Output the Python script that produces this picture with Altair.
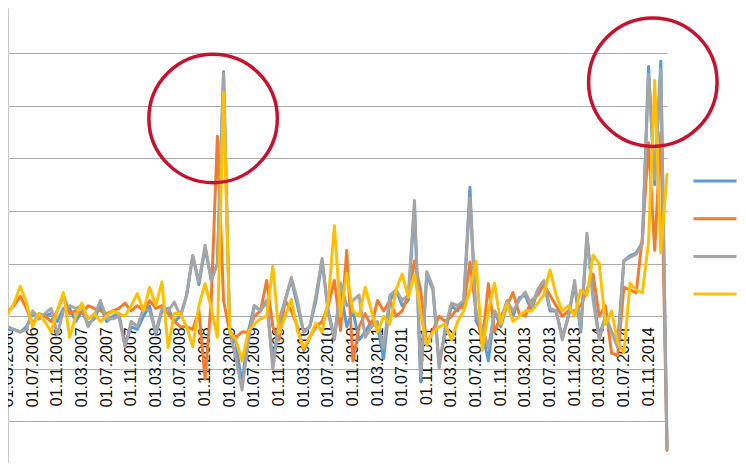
import altair as alt
import pandas as pd

series_names = ["Series 1", "Series 2", "Series 3", "Series 4"]
series_colors = ["#5B9BD5", "#ED7D31", "#A5A5A5", "#FFC000"]

# Monthly values, 01.03.2006 ... 01.02.2015 (108 months)
blue = [-0.25, -0.25, -0.3, -0.2, 0.05, -0.05, 0.0, 0.05, -0.1, 0.15,
        0.15, -0.1, 0.1, -0.15, -0.05, 0.2, -0.1, 0.0, 0.05, -0.55,
        -0.2, -0.25, 0.0, 0.2, -0.35, 0.1, 0.15, -0.1, 0.0, 0.4,
        1.15, 0.6, 1.3, 0.7, 1.0, 4.65, -0.3, -0.5, -1.3, -0.3,
        0.2, 0.1, 0.3, -0.9, -0.1, 0.3, 0.7, 0.2, -0.3, -0.2,
        0.3, 1.05, 0.1, -0.4, 0.5, -0.2, 0.1, -0.45, -0.3, -0.1,
        -0.2, -0.8, 0.3, 0.5, 0.2, 0.3, 2.1, -1.25, 0.8, 0.5,
        -0.9, -0.3, 0.2, 0.1, 0.3, 2.45, -0.1, -0.3, -0.85, 0.1,
        -0.2, 0.2, 0.0, 0.35, 0.4, 0.1, 0.5, 0.65, 0.1, 0.1,
        -0.4, 0.0, 0.6, -0.3, 1.5, 0.4, -0.4, 0.0, -0.3, -0.5,
        1.05, 1.15, 1.2, 1.4, 4.75, 2.5, 4.85, -2.5]

orange = [0.1, 0.2, 0.38, 0.15, -0.15, 0.05, 0.0, -0.1, 0.1, 0.4,
          0.05, 0.1, 0.05, 0.2, 0.15, 0.1, 0.05, 0.1, 0.15, 0.25,
          0.1, 0.2, 0.1, 0.3, 0.15, 0.2, 0.05, -0.1, -0.2, -0.2,
          -0.25, 0.1, -1.2, 0.3, 3.42, 0.3, -0.3, -0.4, -0.3, -0.3,
          0.0, 0.1, 0.68, -0.2, -0.45, 0.3, 0.1, -0.2, -0.65, -0.4,
          -0.2, -0.1, 0.2, 0.68, -0.27, 1.25, -0.85, -0.2, 0.05, -0.2,
          0.3, 0.1, 0.3, 0.0, 0.1, 0.4, 1.05, 0.5, -0.55, -0.27,
          0.0, -0.1, 0.0, 0.15, 0.17, 1.03, 0.1, -0.5, 0.62, -0.3,
          0.0, 0.2, 0.45, 0.05, 0.0, 0.3, 0.4, 0.6, 0.4, 0.2,
          0.0, 0.1, 0.1, 0.2, 0.5, 0.8, 0.0, 0.2, -0.7, -0.75,
          0.55, 0.5, 0.45, 1.5, 3.3, 1.25, 3.5, -2.55]

gray = [-0.2, -0.25, -0.3, -0.25, 0.1, -0.05, 0.05, 0.15, -0.35, 0.1,
        0.2, 0.15, 0.2, -0.2, 0.0, 0.3, -0.05, -0.05, 0.0, -0.58,
        -0.1, -0.2, 0.15, 0.1, -0.3, 0.15, 0.1, 0.27, 0.0, 0.4,
        1.15, 0.65, 1.35, 0.68, 1.0, 4.62, -0.3, -0.8, -1.4, -0.5,
        0.2, 0.1, 0.3, -1.0, -0.1, 0.3, 0.74, 0.3, -0.3, -0.2,
        0.4, 1.1, 0.05, -0.45, 0.63, 0.2, 0.3, 0.4, -0.4, -0.2,
        -0.1, -0.6, 0.4, 0.5, 0.3, 0.4, 2.2, -1.15, 0.85, 0.55,
        -1.0, -0.2, 0.25, 0.2, 0.3, 2.25, 0.0, -0.2, -0.6, 0.1,
        -0.1, 0.3, 0.1, 0.3, 0.46, 0.2, 0.5, 0.68, 0.15, 0.1,
        -0.45, 0.0, 0.68, -0.25, 1.58, 0.3, -0.45, 0.0, -0.3, -0.6,
        1.06, 1.12, 1.18, 1.38, 4.6, 2.6, 4.7, -2.5]

yellow = [0.05, 0.25, 0.57, 0.25, -0.2, 0.05, -0.1, -0.3, 0.1, 0.45,
          -0.4, 0.0, 0.25, -0.05, 0.05, -0.1, 0.0, 0.1, 0.05, 0.0,
          0.2, 0.43, 0.1, 0.55, 0.2, 0.65, -0.6, 0.05, 0.05, -0.2,
          -0.58, 0.2, 0.62, 0.15, -0.4, 4.25, -0.3, -0.45, -0.85, -0.3,
          -0.15, -0.05, 0.0, 0.95, -0.33, 0.0, 0.32, -0.27, -0.6, -0.4,
          -0.13, -0.3, 0.3, 1.72, 0.0, 0.82, 0.1, 0.0, 0.55, 0.1,
          -0.3, 0.0, -0.15, 0.5, 0.8, 0.36, 0.8, 0.05, -0.55, -0.3,
          -0.2, -0.15, -0.45, -0.1, 0.1, 0.5, 1.05, -0.65, 0.1, 0.63,
          -0.15, 0.24, -0.1, 0.0, 0.1, 0.1, 0.25, 0.4, 0.88, 0.4,
          0.1, 0.2, 0.0, 0.5, 0.4, 1.16, 1.0, -0.15, 0.1, -0.5,
          -0.7, 0.63, 0.5, 0.45, 1.4, 4.48, 1.2, 2.7]

# Category-axis tick labels (every 4th month), placed on the zero line
tick_labels = ["01.03.2006", "01.07.2006", "01.11.2006", "01.03.2007", "01.07.2007",
               "01.11.2007", "01.03.2008", "01.07.2008", "01.11.2008", "01.03.2009",
               "01.07.2009", "01.11.2009", "01.03.2010", "01.07.2010", "01.11.2010",
               "01.03.2011", "01.07.2011", "01.11.2011", "01.03.2012", "01.07.2012",
               "01.11.2012", "01.03.2013", "01.07.2013", "01.11.2013", "01.03.2014",
               "01.07.2014", "01.11.2014"]
tick_step = 4

grid_values = [-2, -1, 0, 1, 2, 3, 4, 5]

# Red highlight circles (centres, in month index / value units)
circle_months = [33.3, 104.7]
circle_values = [3.76, 4.45]

n = len(blue)
rows = []
for name, vals in zip(series_names, [blue, orange, gray, yellow]):
    for i, v in enumerate(vals):
        rows.append({"month": i, "series": name, "value": v})
df = pd.DataFrame(rows)
circles_df = pd.DataFrame({"month": circle_months, "value": circle_values})
labels_df = pd.DataFrame({"month": [i * tick_step for i in range(len(tick_labels))],
                          "label": tick_labels, "value": [0] * len(tick_labels)})

W, H = 659, 455
y_lo, y_hi = -2.79, 5.86

x_scale = alt.Scale(domain=[0, n - 1], nice=False, zero=False)
y_scale = alt.Scale(domain=[y_lo, y_hi], nice=False, zero=False)

x_axis = alt.Axis(labels=False, ticks=False, domain=False, grid=False, title=None)
y_axis = alt.Axis(values=grid_values, labels=False, ticks=False, title=None,
                  domain=True, domainColor="#C8C8C8", domainWidth=1,
                  grid=True, gridColor="#ABABAB", gridWidth=1)

date_labels = alt.Chart(labels_df).mark_text(
    angle=270, align="right", baseline="middle", dx=-11,
    font="Liberation Sans", fontSize=16, color="#111111",
).encode(
    x=alt.X("month:Q", scale=x_scale, axis=x_axis),
    y=alt.Y("value:Q", scale=y_scale, axis=y_axis),
    text="label:N",
)

lines = alt.Chart(df).mark_line(strokeWidth=3, strokeJoin="round", strokeCap="round").encode(
    x=alt.X("month:Q", scale=x_scale, axis=x_axis),
    y=alt.Y("value:Q", scale=y_scale, axis=y_axis),
    color=alt.Color("series:N",
                    scale=alt.Scale(domain=series_names, range=series_colors),
                    legend=alt.Legend(orient="none", legendX=684, legendY=150, title=None,
                                      symbolType="stroke", symbolSize=1849,
                                      symbolStrokeWidth=3, labelFontSize=15,
                                      labelFont="Liberation Sans", rowPadding=6.7,
                                      padding=0, labelOffset=6)),
    order=alt.Order("month:Q"),
)

circles = alt.Chart(circles_df).mark_point(shape="circle", filled=False, size=16500,
                                            strokeWidth=3.5, opacity=1).encode(
    x=alt.X("month:Q", scale=x_scale),
    y=alt.Y("value:Q", scale=y_scale),
    color=alt.value("#C5132F"),
)

chart = alt.layer(date_labels, lines, circles).properties(
    width=W, height=H,
    autosize=alt.AutoSizeParams(type="none"),
    padding={"left": 0, "top": 0, "right": 730 - W, "bottom": 0},
).configure_view(strokeWidth=0)

chart.save("out.html", embed_options={"renderer": "svg", "actions": False})
